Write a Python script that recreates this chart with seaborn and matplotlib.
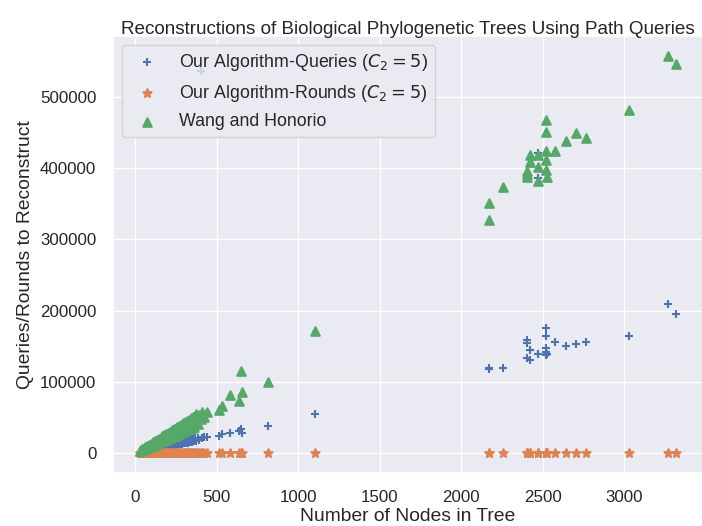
import matplotlib
matplotlib.use("Agg")
import matplotlib.pyplot as plt
import seaborn as sns
import pandas as pd

# ---- data ----
n_nodes = [
    28, 31, 34, 37, 40, 44, 48, 55, 60, 66, 72, 78, 84, 90, 96, 102, 108, 114,
    120, 126, 131, 137, 143, 149, 155, 160, 166, 172, 178, 183, 189, 195, 200,
    206, 212, 218, 224, 230, 236, 241, 247, 253, 259, 265, 270, 276, 282, 288,
    294, 300, 306, 312, 318, 324, 330, 336, 342, 348, 354, 360, 366, 375, 384,
    392, 402, 410, 420,
    439, 514, 535, 581, 636, 646, 652, 814, 1100,
    2167, 2167, 2252, 2400, 2400, 2400, 2421, 2421, 2471, 2471, 2471,
    2520, 2520, 2520, 2520, 2520, 2522, 2571, 2644, 2703, 2766, 3028, 3268, 3317,
]

queries = [
    1500, 1500, 1900, 1800, 2300, 2100, 2700, 2700, 3400, 3200, 4100, 3700, 4800,
    4300, 5500, 4800, 6200, 5400, 6900, 6000, 7500, 6400, 8200, 7000, 8800,
    7600, 9500, 8100, 10100, 8500, 10800, 9100, 11400, 9600, 12100, 10100,
    12800, 10700, 13500, 11200, 14100, 11700, 14800, 12200, 15400, 12700,
    16100, 13300, 16800, 13800, 17400, 14400, 18100, 14900, 18800, 15500,
    19500, 16000, 20200, 16500, 20900, 17200, 21600, 17900, 537000, 21500, 23000,
    22900, 23800, 27000, 28500, 30500, 34000, 27600, 37900, 54300,
    119000, 118500, 119800, 158700, 154000, 133000, 144500, 130600, 138500,
    421000, 386000,
    176000, 164000, 148000, 142000, 137500, 139000, 156000, 150700, 153000,
    156000, 164000, 209000, 195000,
]

rounds = [
    20, 25, 28, 30, 33, 35, 38, 40, 42, 44, 46, 48, 50, 52, 54, 56, 58, 60,
    62, 63, 65, 66, 68, 70, 71, 73, 74, 76, 77, 79, 80, 82, 83, 85, 86, 88, 89,
    90, 92, 93, 95, 96, 98, 99, 100, 102, 103, 105, 106, 108, 109, 110, 112,
    113, 115, 116, 118, 119, 120, 122, 123, 125, 127, 128, 130, 131, 133,
    136, 145, 148, 152, 158, 160, 161, 175, 200,
    300, 300, 305, 315, 315, 315, 318, 318, 320, 320, 320,
    325, 325, 325, 325, 325, 325, 330, 335, 340, 345, 360, 375, 378,
]

wang = [
    3000, 3400, 4300, 4000, 5600, 4800, 6500, 5600, 8300, 6800, 10100, 8000,
    11800, 9200, 13400, 10400, 15100, 11700, 16800, 12900, 18400, 14000, 20100,
    15100, 21700, 16400, 23500, 17600, 25100, 18800, 26900, 19900, 28400,
    21100, 30200, 22300, 31800, 23500, 33400, 24600, 35200, 25900, 36800,
    27100, 38500, 28300, 40200, 29500, 41900, 30800, 43600, 32000, 45300,
    33300, 47000, 34500, 48800, 35800, 50500, 37100, 52000, 55600, 41000,
    54000, 48000, 57500, 51000,
    58000, 60400, 66000, 81500, 73000, 115600, 86100, 99500, 171700,
    327000, 351500, 373000, 396500, 388000, 392000, 418500, 408000, 402000,
    418500, 382500,
    467700, 451000, 424000, 411500, 397500, 388000, 424000, 438000, 449000,
    443000, 481700, 557600, 546000,
]

labels = ["Our Algorithm-Queries ($C_2 = 5$)",
          "Our Algorithm-Rounds ($C_2 = 5$)",
          "Wang and Honorio"]

# ---- figure ----
sns.set_theme(style="darkgrid", context="notebook")
plt.rcParams["font.family"] = ["Liberation Sans", "DejaVu Sans"]

df = pd.DataFrame({"n": n_nodes, "queries": queries,
                   "rounds": rounds, "wang": wang})
pal = sns.color_palette("deep")

fig = plt.figure(figsize=(7.02, 5.26), dpi=100)
ax = fig.add_axes([113 / 702, 53 / 526, 590 / 702, 437 / 526])

sns.scatterplot(data=df, x="n", y="queries", marker="+", s=38,
                color=pal[0], linewidth=1.5, label=labels[0], ax=ax)
sns.scatterplot(data=df, x="n", y="rounds", marker="*", s=38,
                color=pal[1], edgecolor="face", linewidth=1.5,
                label=labels[1], ax=ax)
sns.scatterplot(data=df, x="n", y="wang", marker="^", s=38,
                color=pal[2], edgecolor="face", linewidth=1.5,
                label=labels[2], ax=ax)

ax.set_title("Reconstructions of Biological Phylogenetic Trees Using Path Queries",
             fontsize=13.6, pad=1.5)
ax.set_xlabel("Number of Nodes in Tree", fontsize=13.9, labelpad=2.5)
ax.set_ylabel("Queries/Rounds to Reconstruct", fontsize=13.9, labelpad=4)
ax.tick_params(axis="both", labelsize=12.2, pad=6)
ax.legend(loc="upper left", fontsize=12.75, labelspacing=0.55)

fig.savefig("out.png", dpi=100)
